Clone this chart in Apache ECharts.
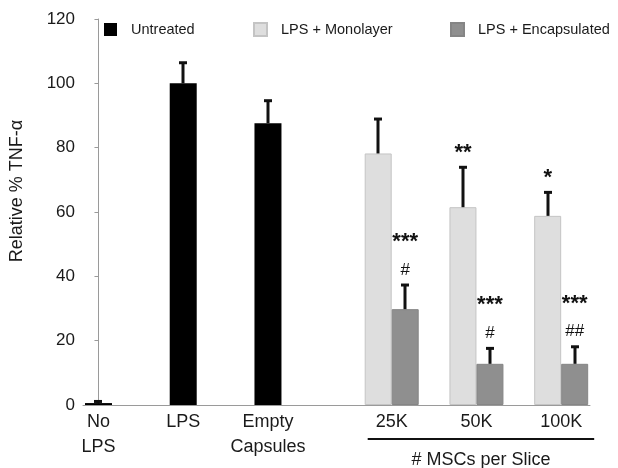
<!DOCTYPE html>
<html>
<head>
<meta charset="utf-8">
<script src="https://cdn.jsdelivr.net/npm/echarts@6/dist/echarts.min.js"></script>
<style>
  html, body { margin: 0; padding: 0; background: #fff; }
  #chart { width: 618px; height: 468px; }
</style>
</head>
<body>
<div id="chart"></div>
<script>
// ---- data ----
const categories = ['No\nLPS', 'LPS', 'Empty\nCapsules', '25K', '50K', '100K'];
const untreatedVals = [0.6, 100, 87.6];
const untreatedErr = [0.5, 6.4, 7.0];
const monolayerVals = [78.2, 61.5, 58.8];
const monolayerErr = [10.7, 12.4, 7.3];
const encapVals = [29.8, 12.8, 12.8];
const encapErr = [7.5, 4.8, 5.3];
const monolayerSig = ['', '**', '*'];
const encapSig = ['***', '***', '***'];
const encapHash = ['#', '#', '##'];
const yTicks = [0, 20, 40, 60, 80, 100, 120];
const seriesNames = ['Untreated', 'LPS + Monolayer', 'LPS + Encapsulated'];
const groupTitle = '# MSCs per Slice';

// ---- layout (not data) ----
const GROUP_GAP = 0.46;
const BAR_W = 27;
const FONT = "'Liberation Sans', Arial, sans-serif";
const pos = categories.map((c, i) => i < 3 ? i : i + GROUP_GAP);
const X_MIN = -0.1826, X_MAX = 5.80;
const legendLefts = [99, 248, 445];

const untreatedData = untreatedVals.map((v, i) => [pos[i], v]);
const monoData = monolayerVals.map((v, i) => [pos[i + 3], v]);
const encapData = encapVals.map((v, i) => [pos[i + 3], v]);

// error bars: [x, value, err, side]
const errData = [];
untreatedVals.forEach((v, i) => errData.push([pos[i], v, untreatedErr[i], 0]));
monolayerVals.forEach((v, i) => errData.push([pos[i + 3], v, monolayerErr[i], -0.5]));
encapVals.forEach((v, i) => errData.push([pos[i + 3], v, encapErr[i], 0.5]));

// annotations
const annots = [];
monolayerVals.forEach((v, i) => { if (monolayerSig[i]) annots.push({x: pos[i + 3], top: v + monolayerErr[i], side: -0.5, text: monolayerSig[i], kind: 'star', level: 1}); });
encapVals.forEach((v, i) => {
  annots.push({x: pos[i + 3], top: v + encapErr[i], side: 0.5, text: encapHash[i], kind: 'hash', level: 1});
  annots.push({x: pos[i + 3], top: v + encapErr[i], side: 0.5, text: encapSig[i], kind: 'star', level: 2});
});
const annotData = annots.map(a => [a.x, a.top]);

const chart = echarts.init(document.getElementById('chart'), null, {renderer: 'canvas'});
const textColor = '#1a1a1a';
const axisGray = '#9a9a9a';

const option = {
  animation: false,
  backgroundColor: '#fff',
  textStyle: {fontFamily: FONT},
  legend: seriesNames.map((n, i) => ({
    left: legendLefts[i], top: 17,
    itemWidth: 13, itemHeight: 13,
    icon: 'rect',
    selectedMode: false,
    textStyle: {fontSize: 14.5, color: textColor, fontFamily: FONT, padding: [0, 0, 0, 9]},
    data: [n]
  })),
  grid: {left: 82, right: 28, top: 19, bottom: 63},
  xAxis: [
    {
      type: 'value', min: X_MIN, max: X_MAX,
      axisLine: {show: true, onZero: false, lineStyle: {color: axisGray, width: 1}},
      axisTick: {show: false},
      splitLine: {show: false},
      axisLabel: {
        customValues: pos,
        fontSize: 18, color: textColor, fontFamily: FONT, lineHeight: 25, margin: 5,
        formatter: function (v) {
          let best = 0, d = Infinity;
          pos.forEach((p, i) => { if (Math.abs(p - v) < d) { d = Math.abs(p - v); best = i; } });
          return categories[best];
        }
      }
    },
    {
      type: 'value', min: X_MIN, max: X_MAX, show: false,
      splitLine: {show: false}
    }
  ],
  yAxis: {
    type: 'value', min: 0, max: 120, interval: 20,
    name: 'Relative % TNF-α',
    nameLocation: 'middle', nameRotate: 90, nameGap: 57,
    nameTextStyle: {fontSize: 18, color: textColor, fontFamily: FONT, padding: [0, 0, 0, 42]},
    axisLine: {show: true, lineStyle: {color: axisGray, width: 1}},
    axisTick: {show: true, length: 4, lineStyle: {color: axisGray}},
    splitLine: {show: false},
    axisLabel: {
      fontSize: 17, color: textColor, fontFamily: FONT, margin: 8,
      customValues: yTicks
    }
  },
  series: [
    {
      name: seriesNames[0], type: 'bar', xAxisIndex: 1, yAxisIndex: 0,
      barWidth: BAR_W, data: untreatedData,
      itemStyle: {color: '#000000'}
    },
    {
      name: seriesNames[1], type: 'bar', xAxisIndex: 0, yAxisIndex: 0,
      barWidth: BAR_W, barGap: '0%', data: monoData,
      itemStyle: {color: '#dedede', borderColor: '#c4c4c4', borderWidth: 1}
    },
    {
      name: seriesNames[2], type: 'bar', xAxisIndex: 0, yAxisIndex: 0,
      barWidth: BAR_W, barGap: '0%', data: encapData,
      itemStyle: {color: '#8f8f8f', borderColor: '#858585', borderWidth: 1}
    },
    {
      type: 'custom', xAxisIndex: 0, yAxisIndex: 0, z: 5,
      data: errData,
      renderItem: function (params, api) {
        const x = api.value(0), v = api.value(1), e = api.value(2), side = api.value(3);
        const p0 = api.coord([x, v]);
        const p1 = api.coord([x, v + e]);
        const cx = Math.round(p0[0] + side * BAR_W) ;
        return {
          type: 'group',
          children: [
            {type: 'line', shape: {x1: cx, y1: p0[1], x2: cx, y2: p1[1]}, style: {stroke: '#111', lineWidth: 3}},
            {type: 'line', shape: {x1: cx - 4, y1: p1[1], x2: cx + 4, y2: p1[1]}, style: {stroke: '#111', lineWidth: 3}}
          ]
        };
      }
    },
    {
      type: 'custom', xAxisIndex: 0, yAxisIndex: 0, z: 6,
      data: annotData,
      renderItem: function (params, api) {
        const a = annots[params.dataIndex];
        const p = api.coord([api.value(0), api.value(1)]);
        const cx = p[0] + a.side * BAR_W;
        const isStar = a.kind === 'star';
        const gap = a.level === 1 ? 15 : 44;
        const y = p[1] - gap + (isStar ? 1 : 0);
        return {
          type: 'text',
          x: cx, y: y,
          style: {
            text: a.text,
            fill: '#111',
            font: (isStar ? 'bold 22px ' : '17px ') + FONT,
            align: 'center', verticalAlign: 'middle'
          }
        };
      }
    }
  ]
};
chart.setOption(option);

// group title under the MSC categories
const pL = chart.convertToPixel({xAxisIndex: 0, yAxisIndex: 0}, [pos[3], 0]);
const pR = chart.convertToPixel({xAxisIndex: 0, yAxisIndex: 0}, [pos[5], 0]);
const lineX1 = pL[0] - 24, lineX2 = pR[0] + 33, lineY = pL[1] + 34;
chart.setOption({
  graphic: [
    {type: 'line', shape: {x1: lineX1, y1: lineY, x2: lineX2, y2: lineY}, style: {stroke: '#111', lineWidth: 2}},
    {type: 'text', x: (lineX1 + lineX2) / 2, y: lineY + 21,
      style: {text: groupTitle, font: '18px ' + FONT, fill: textColor, align: 'center', verticalAlign: 'middle'}}
  ]
});
</script>
</body>
</html>
